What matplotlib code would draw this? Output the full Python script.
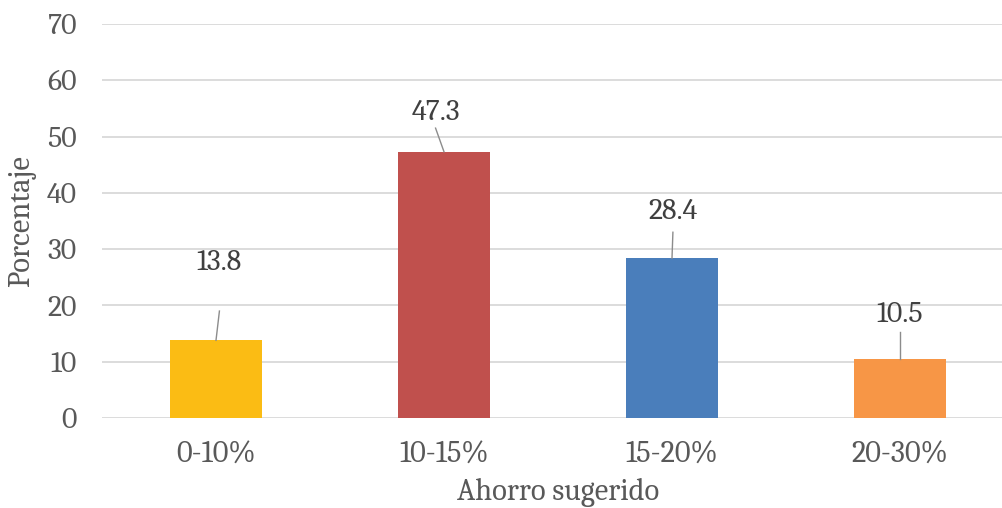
import matplotlib.pyplot as plt
from matplotlib import font_manager

installed = {f.name for f in font_manager.fontManager.ttflist}
serif_like = 'Caladea' if 'Caladea' in installed else 'DejaVu Serif'

# savings ranges and share of respondents (%)
categories = ['0-10%', '10-15%', '15-20%', '20-30%']
values = [13.8, 47.3, 28.4, 10.5]
colors = ['#FBBC14', '#C0504D', '#4A7EBB', '#F79646']

# value label placement: x shift (categories), label and leader-line height above bar top
label_dx = [0.015, -0.037, 0.004, 0.0]
label_rise = [13.7, 7.0, 8.2, 7.8]
leader_rise = [5.2, 4.2, 4.6, 4.8]

text_color = '#595959'
grid_color = '#D9D9D9'
plt.rcParams['font.family'] = [serif_like, 'DejaVu Serif']

fig = plt.figure(figsize=(10.03, 5.08), dpi=100)
ax = fig.add_axes([102 / 1003, 90 / 508, 912 / 1003, 394 / 508])

x = list(range(len(categories)))
ax.bar(x, values, width=0.4, color=colors, zorder=3)

for i, v in enumerate(values):
    ax.plot([i, i + label_dx[i]], [v, v + leader_rise[i]], color='#8C8C8C', lw=1.0, zorder=4)
    ax.text(i + label_dx[i], v + label_rise[i], f'{v}', ha='center', va='center',
            fontsize=21.5, color='#404040', zorder=4)

ax.set_xlim(-0.5, 3.5)
ax.set_ylim(0, 70)
ax.set_yticks(range(0, 71, 10))
ax.set_xticks(x)
ax.set_xticklabels(categories)
ax.yaxis.grid(True, color=grid_color, lw=1.3, zorder=0)
ax.set_axisbelow(True)
for s in ax.spines.values():
    s.set_visible(False)
ax.tick_params(length=0, colors=text_color)
ax.tick_params(axis='y', labelsize=21.5, pad=18.5)
ax.tick_params(axis='x', labelsize=22, pad=16.5)

ax.set_ylabel('Porcentaje', fontsize=22, color=text_color, labelpad=7.5)
ax.set_xlabel('Ahorro sugerido', fontsize=22, color=text_color, labelpad=5.5)

fig.savefig('out.png', dpi=100)
